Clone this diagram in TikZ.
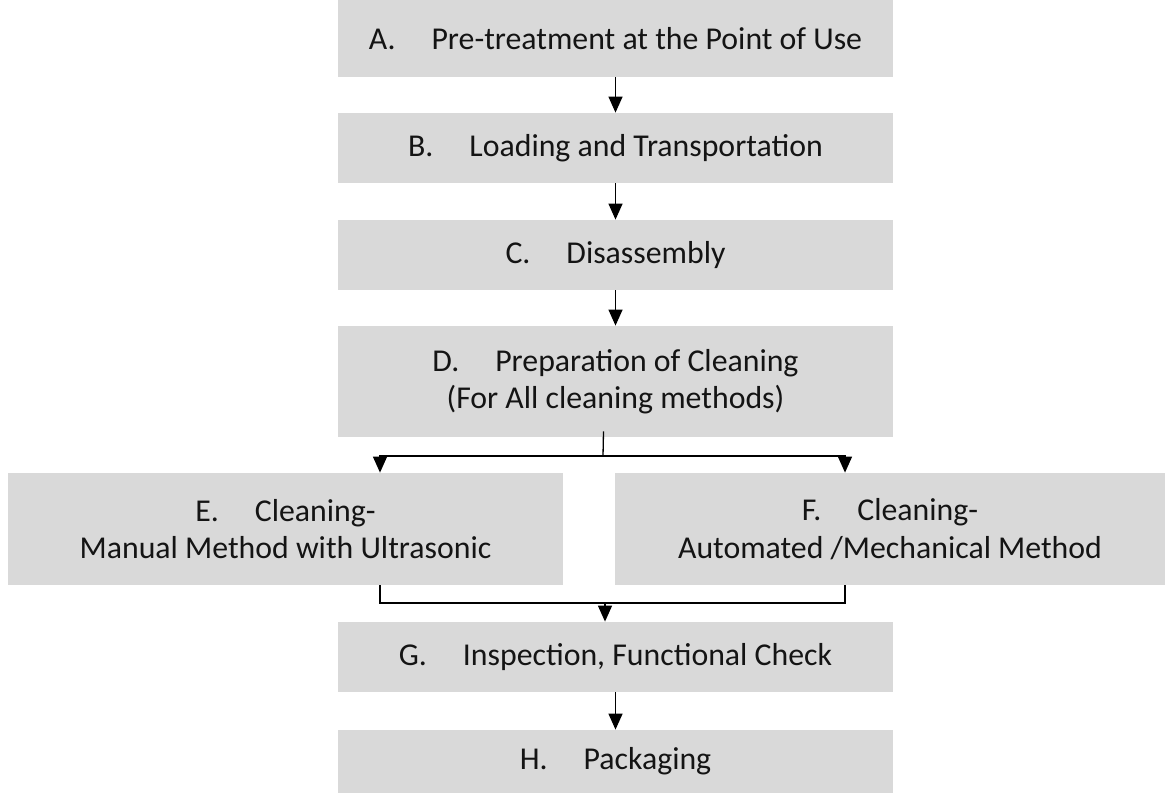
\documentclass[tikz,border=0pt]{standalone}
\usepackage{fontspec}
\setmainfont{Carlito}
\usepackage{tikz}
\usetikzlibrary{arrows.meta, positioning, calc}
\definecolor{StepGray}{RGB}{217, 217, 217}
\definecolor{StepText}{RGB}{20, 20, 20}
\newcommand{\tabgap}{\hspace{18pt}}

\begin{document}
\begin{tikzpicture}[x=0.5pt,y=-0.5pt,
  stepbox/.style={fill=StepGray, inner sep=0pt, minimum width=277.5pt,
    text=StepText, align=center, font=\fontsize{15.9}{18.8}\selectfont},
  flow/.style={line width=0.65pt, -{Triangle[width=7pt,length=8pt]}},
  link/.style={line width=0.65pt}]
  \path[use as bounding box] (0,0) rectangle (1170,793);

  % Main column
  \node[stepbox, minimum height=38.5pt] (prep) at (615.5,38.5) {A.\tabgap Pre-treatment at the Point of Use};
  \node[stepbox, minimum height=35pt] (load) at (615.5,148) {B.\tabgap Loading and Transportation};
  \node[stepbox, minimum height=35pt] (disasm) at (615.5,255) {C.\tabgap Disassembly};
  \node[stepbox, minimum height=55.5pt] (clprep) at (615.5,381.5) {D.\tabgap Preparation of Cleaning\\(For All cleaning methods)};

  % Two cleaning branches
  \node[stepbox, minimum height=56pt] (manual) at (285.5,529) {E.\tabgap Cleaning-\\Manual Method with Ultrasonic};
  \node[stepbox, minimum width=275pt, minimum height=56pt] (auto) at (890,529) {F.\tabgap Cleaning-\\Automated /Mechanical Method};

  \node[stepbox, minimum height=35pt] (inspect) at (615.5,657) {G.\tabgap Inspection, Functional Check};
  \node[stepbox, minimum height=31.5pt] (pack) at (615.5,761.5) {H.\tabgap Packaging};

  % Straight arrows
  \draw[flow] (prep.south) -- (load.north);
  \draw[flow] (load.south) -- (disasm.north);
  \draw[flow] (disasm.south) -- (clprep.north);
  \draw[flow] (inspect.south) -- (pack.north);

  % Split
  \coordinate (split) at (603,456);
  \draw[link] ($(clprep.south)+(-12,-6)$) -- (split);
  \draw[flow] (split) -| (manual.north -| 380,0);
  \draw[flow] (split) -| (auto.north -| 845,0);

  % Merge
  \coordinate (merge) at (605,603);
  \draw[link] (manual.south -| 380,0) |- (merge);
  \draw[link] (auto.south -| 845,0) |- (merge);
  \draw[flow] (merge) -- (inspect.north -| merge);
\end{tikzpicture}
\end{document}
